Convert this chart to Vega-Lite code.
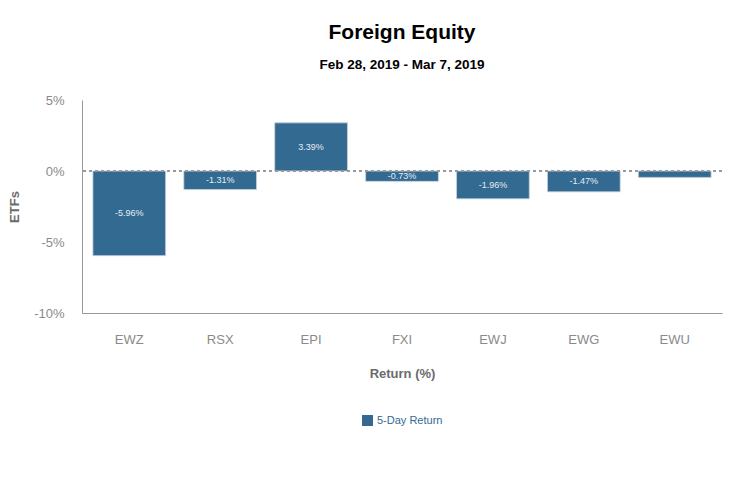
{
  "$schema": "https://vega.github.io/schema/vega-lite/v6.json",
  "width": 640,
  "height": 213,
  "padding": {"left": 8, "top": 21, "right": 10, "bottom": 10},
  "background": "white",
  "config": {
    "font": "Liberation Sans",
    "view": {"stroke": null},
    "legend": {"layout": {"bottom": {"anchor": "middle"}}}
  },
  "title": {
    "text": "Foreign Equity",
    "subtitle": "Feb 28, 2019 - Mar 7, 2019",
    "fontSize": 21,
    "fontWeight": "bold",
    "color": "#000000",
    "subtitleFontSize": 13.5,
    "subtitleFontWeight": "bold",
    "subtitleColor": "#000000",
    "subtitlePadding": 15,
    "offset": 23,
    "anchor": "middle"
  },
  "data": {
    "values": [
      {"etf": "EWZ", "ret": -5.96, "series": "5-Day Return"},
      {"etf": "RSX", "ret": -1.31, "series": "5-Day Return"},
      {"etf": "EPI", "ret": 3.39, "series": "5-Day Return"},
      {"etf": "FXI", "ret": -0.73, "series": "5-Day Return"},
      {"etf": "EWJ", "ret": -1.96, "series": "5-Day Return"},
      {"etf": "EWG", "ret": -1.47, "series": "5-Day Return"},
      {"etf": "EWU", "ret": -0.45, "series": "5-Day Return"}
    ]
  },
  "encoding": {
    "x": {
      "field": "etf", "type": "nominal", "sort": null,
      "scale": {"paddingInner": 0.2, "paddingOuter": 0.12},
      "axis": {
        "title": "Return (%)", "labelAngle": 0, "labelPadding": 20, "ticks": false,
        "labelColor": "#8a8a8a", "labelFontSize": 13, "domainColor": "#999999",
        "titleColor": "#6b6b6b", "titleFontSize": 13, "titleFontWeight": "bold", "titlePadding": 21
      }
    }
  },
  "layer": [
    {
      "mark": {"type": "bar", "color": "#336a92", "stroke": "#c8d2dc", "strokeWidth": 0.8},
      "encoding": {
        "y": {
          "field": "ret", "type": "quantitative",
          "scale": {"domain": [-10, 5], "nice": false},
          "axis": {
            "title": "ETFs", "values": [-10, -5, 0, 5], "grid": false, "ticks": false,
            "labelExpr": "datum.value + '%'", "labelPadding": 18,
            "labelColor": "#8a8a8a", "labelFontSize": 13, "domainColor": "#999999",
            "titleColor": "#6b6b6b", "titleFontSize": 13, "titleFontWeight": "bold", "titlePadding": 12
          }
        },
        "fill": {
          "field": "series", "type": "nominal",
          "scale": {"range": ["#336a92"]},
          "legend": {
            "title": null, "orient": "bottom", "symbolType": "square", "symbolSize": 120,
            "symbolStrokeWidth": 0,
            "labelColor": "#336a92", "labelFontSize": 11, "offset": 35
          }
        }
      }
    },
    {
      "mark": {"type": "rule", "color": "#999999", "strokeDash": [3, 3], "strokeWidth": 1},
      "encoding": {"y": {"datum": 0, "type": "quantitative"}, "x": null}
    },
    {
      "transform": [
        {"filter": "abs(datum.ret) > 0.6"},
        {"calculate": "datum.ret / 2", "as": "mid"},
        {"calculate": "datum.ret + '%'", "as": "lbl"}
      ],
      "mark": {"type": "text", "color": "#e4ecf3", "fontSize": 9},
      "encoding": {
        "y": {"field": "mid", "type": "quantitative"},
        "text": {"field": "lbl", "type": "nominal"}
      }
    }
  ]
}
